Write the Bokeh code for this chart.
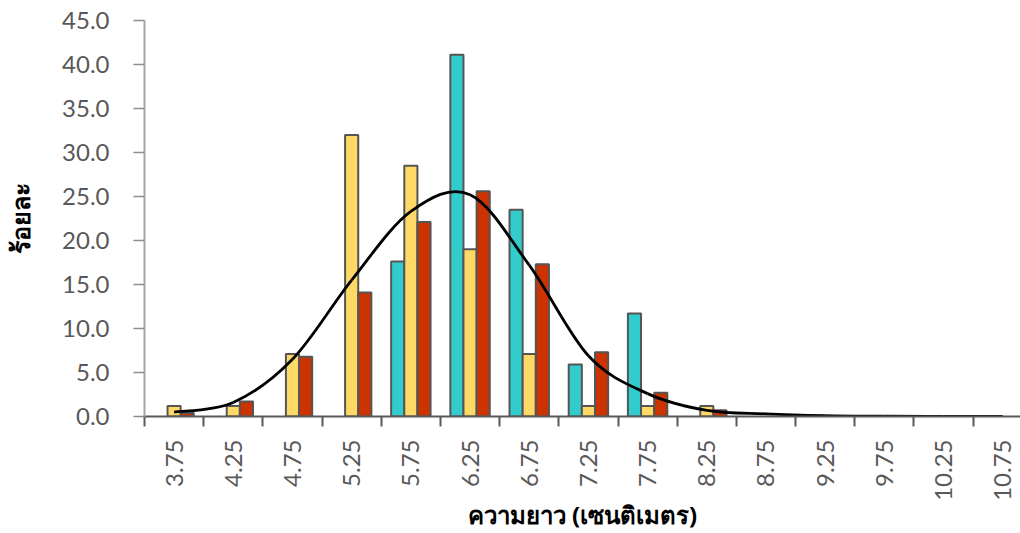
from bokeh.plotting import figure
from bokeh.models import Range1d, FixedTicker, ColumnDataSource
from bokeh.embed import file_html
from bokeh.resources import INLINE
import math

# ---- data ----
categories = ["3.75", "4.25", "4.75", "5.25", "5.75", "6.25", "6.75", "7.25",
              "7.75", "8.25", "8.75", "9.25", "9.75", "10.25", "10.75"]
series_cyan = [0, 0, 0, 0, 17.6, 41.1, 23.5, 5.9, 11.7, 0, 0, 0, 0, 0, 0]
series_yellow = [1.2, 1.2, 7.1, 32.0, 28.5, 19.0, 7.1, 1.2, 1.2, 1.2, 0, 0, 0, 0, 0]
series_red = [0.4, 1.7, 6.8, 14.1, 22.1, 25.6, 17.3, 7.3, 2.7, 0.7, 0, 0, 0, 0, 0]
curve_values = [0.5, 1.6, 6.5, 15.5, 23.3, 25.2, 17.2, 6.9, 2.6, 0.7, 0.3, 0.1, 0.03, 0.01, 0.0]
y_ticks = [0, 5, 10, 15, 20, 25, 30, 35, 40, 45]

n = len(categories)
centers = [i + 0.5 for i in range(n)]
boundaries = [float(i) for i in range(n + 1)]

p = figure(width=1020, height=533, output_backend="svg", toolbar_location=None,
           x_range=Range1d(0, 14.8), y_range=Range1d(0, 45),
           min_border_left=144, min_border_right=0, min_border_top=20, min_border_bottom=116)
p.outline_line_color = None
p.xgrid.visible = False
p.ygrid.visible = False
p.background_fill_color = "white"
p.border_fill_color = "white"

bw = 0.222
series = [(series_cyan, "#33CCCC", -bw), (series_yellow, "#FFD966", 0.0), (series_red, "#CC3300", bw)]
for vals, col, off in series:
    xs = [c + off for c, v in zip(centers, vals) if v > 0]
    tops = [v for v in vals if v > 0]
    src = ColumnDataSource(dict(x=xs, top=tops))
    p.vbar(x="x", top="top", bottom=0, width=bw, source=src,
           fill_color=col, line_color="#555555", line_width=2)

# smoothed curve (Bezier segments through the points, like a smoothed line)
P = list(zip(centers, curve_values))
x0, y0, x1, y1, cx0, cy0, cx1, cy1 = ([] for _ in range(8))
for i in range(n - 1):
    pa = P[i - 1] if i > 0 else P[i]
    pb = P[i]
    pc = P[i + 1]
    pd = P[i + 2] if i + 2 < n else P[i + 1]
    x0.append(pb[0]); y0.append(pb[1]); x1.append(pc[0]); y1.append(pc[1])
    cx0.append(pb[0] + (pc[0] - pa[0]) / 6); cy0.append(pb[1] + (pc[1] - pa[1]) / 6)
    cx1.append(pc[0] - (pd[0] - pb[0]) / 6); cy1.append(pc[1] - (pd[1] - pb[1]) / 6)
p.bezier(x0=x0, y0=y0, x1=x1, y1=y1, cx0=cx0, cy0=cy0, cx1=cx1, cy1=cy1,
         line_color="black", line_width=2.8)

# x axis
xa = p.xaxis[0]
xa.ticker = FixedTicker(ticks=centers, minor_ticks=boundaries)
xa.major_label_overrides = {c: lab for c, lab in zip(centers, categories)}
xa.major_label_orientation = math.pi / 2
xa.major_tick_out = 0
xa.major_tick_in = 0
xa.minor_tick_out = 10
xa.minor_tick_in = 0
xa.minor_tick_line_color = "#595959"
xa.minor_tick_line_width = 2
xa.axis_line_color = "#595959"
xa.axis_line_width = 2
xa.major_label_text_font = "Lato"
xa.major_label_text_font_size = "24px"
xa.major_label_text_color = "#595959"
xa.major_label_standoff = 13
xa.axis_label = "ความยาว (เซนติเมตร)"
xa.axis_label_text_font = "Noto Sans"
xa.axis_label_text_font_style = "bold"
xa.axis_label_text_font_size = "24px"
xa.axis_label_text_color = "black"
xa.axis_label_standoff = -6

# y axis
ya = p.yaxis[0]
ya.ticker = FixedTicker(ticks=y_ticks)
ya.major_label_overrides = {t: f"{t:.1f}" for t in y_ticks}
ya.minor_tick_line_color = None
ya.major_tick_out = 11
ya.major_tick_in = 0
ya.major_tick_line_color = "#8c8c8c"
ya.major_tick_line_width = 1.5
ya.axis_line_color = "#a6a6a6"
ya.axis_line_width = 2
ya.major_label_text_font = "Lato"
ya.major_label_text_font_size = "24px"
ya.major_label_text_color = "#595959"
ya.major_label_standoff = 24
ya.axis_label = "ร้อยละ"
ya.axis_label_text_font = "Noto Sans"
ya.axis_label_text_font_style = "bold"
ya.axis_label_text_font_size = "25px"
ya.axis_label_text_color = "black"
ya.axis_label_standoff = 22

open("out.html", "w").write(file_html(p, INLINE))
